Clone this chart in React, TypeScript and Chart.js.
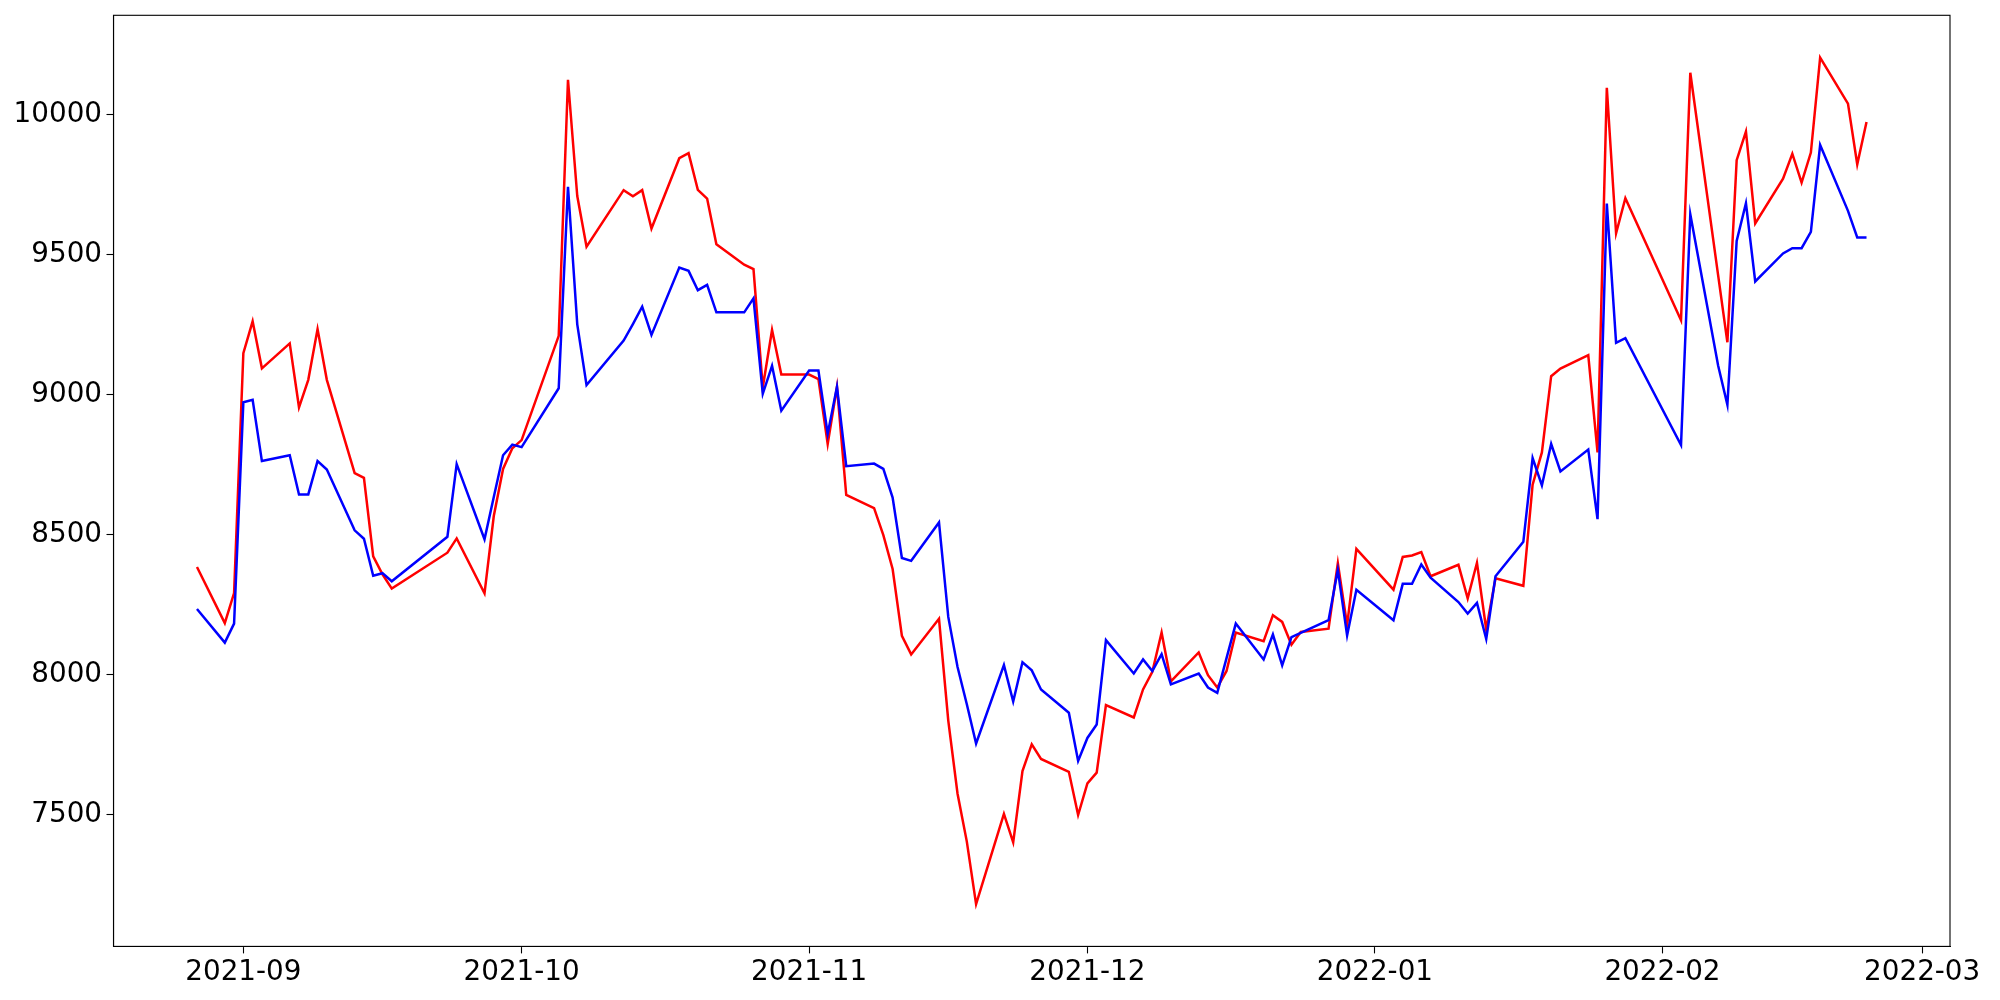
import React, { useEffect, useRef } from "react";
import { Chart, registerables } from "chart.js";

Chart.register(...registerables);

const dates: string[] = [
  "2021-08-27", "2021-08-30", "2021-08-31", "2021-09-01", "2021-09-02", "2021-09-03",
  "2021-09-06", "2021-09-07", "2021-09-08", "2021-09-09", "2021-09-10",
  "2021-09-13", "2021-09-14", "2021-09-15", "2021-09-16", "2021-09-17",
  "2021-09-23", "2021-09-24", "2021-09-27", "2021-09-28", "2021-09-29", "2021-09-30",
  "2021-10-01", "2021-10-05", "2021-10-06", "2021-10-07", "2021-10-08",
  "2021-10-12", "2021-10-13", "2021-10-14", "2021-10-15",
  "2021-10-18", "2021-10-19", "2021-10-20", "2021-10-21", "2021-10-22",
  "2021-10-25", "2021-10-26", "2021-10-27", "2021-10-28", "2021-10-29",
  "2021-11-01", "2021-11-02", "2021-11-03", "2021-11-04", "2021-11-05",
  "2021-11-08", "2021-11-09", "2021-11-10", "2021-11-11", "2021-11-12",
  "2021-11-15", "2021-11-16", "2021-11-17", "2021-11-18", "2021-11-19",
  "2021-11-22", "2021-11-23", "2021-11-24", "2021-11-25", "2021-11-26",
  "2021-11-29", "2021-11-30", "2021-12-01", "2021-12-02", "2021-12-03",
  "2021-12-06", "2021-12-07", "2021-12-08", "2021-12-09", "2021-12-10",
  "2021-12-13", "2021-12-14", "2021-12-15", "2021-12-16", "2021-12-17",
  "2021-12-20", "2021-12-21", "2021-12-22", "2021-12-23", "2021-12-24",
  "2021-12-27", "2021-12-28", "2021-12-29", "2021-12-30",
  "2022-01-03", "2022-01-04", "2022-01-05", "2022-01-06", "2022-01-07",
  "2022-01-10", "2022-01-11", "2022-01-12", "2022-01-13", "2022-01-14",
  "2022-01-17", "2022-01-18", "2022-01-19", "2022-01-20", "2022-01-21",
  "2022-01-24", "2022-01-25", "2022-01-26", "2022-01-27", "2022-01-28",
  "2022-02-03", "2022-02-04",
  "2022-02-07", "2022-02-08", "2022-02-09", "2022-02-10", "2022-02-11",
  "2022-02-14", "2022-02-15", "2022-02-16", "2022-02-17", "2022-02-18",
  "2022-02-21", "2022-02-22", "2022-02-23",
];

const redValues: number[] = [
  8385, 8185, 8292, 9148, 9262, 9094,
  9183, 8955, 9053, 9234, 9053,
  8720, 8703, 8423, 8359, 8308,
  8436, 8487, 8291, 8567, 8735, 8809,
  8838, 9210, 10124, 9709, 9528,
  9730, 9708, 9730, 9593,
  9844, 9862, 9731, 9700, 9537,
  9464, 9448, 9026, 9231, 9072,
  9072, 9056, 8824, 9028, 8642,
  8595, 8499, 8378, 8139, 8073,
  8200, 7837, 7576, 7405, 7182,
  7504, 7402, 7657, 7752, 7700,
  7654, 7500, 7613, 7651, 7892,
  7848, 7948, 8011, 8151, 7977,
  8080, 7999, 7955, 8014, 8151,
  8120, 8213, 8189, 8108, 8153,
  8165, 8399, 8177, 8450,
  8304, 8421, 8426, 8438, 8352,
  8393, 8273, 8400, 8162, 8345,
  8318, 8679, 8794, 9066, 9093,
  9141, 8794, 10095, 9576, 9701,
  9266, 10149,
  9427, 9187, 9837, 9939, 9611,
  9771, 9860, 9757, 9864, 10203,
  10039, 9822, 9973,
];

const blueValues: number[] = [
  8235, 8115, 8183, 8973, 8982, 8763,
  8784, 8644, 8644, 8763, 8733,
  8516, 8486, 8354, 8363, 8334,
  8493, 8752, 8484, 8635, 8784, 8822,
  8813, 9023, 9742, 9251, 9034,
  9193, 9252, 9314, 9213,
  9454, 9442, 9373, 9392, 9294,
  9294, 9344, 9003, 9103, 8943,
  9086, 9086, 8860, 9028, 8745,
  8754, 8735, 8633, 8417, 8407,
  8544, 8207, 8028, 7895, 7755,
  8035, 7905, 8045, 8016, 7948,
  7865, 7693, 7775, 7823, 8124,
  8005, 8055, 8014, 8074, 7966,
  8005, 7955, 7936, 8060, 8183,
  8055, 8144, 8034, 8135, 8150,
  8195, 8375, 8141, 8304,
  8195, 8325, 8325, 8394, 8347,
  8260, 8219, 8257, 8128, 8352,
  8475, 8774, 8676, 8824, 8726,
  8804, 8556, 9682, 9185, 9202,
  8820, 9644,
  9104, 8964, 9549, 9683, 9404,
  9504, 9523, 9523, 9581, 9891,
  9656, 9561, 9561,
];

const xTickDates: string[] = [
  "2021-09-01", "2021-10-01", "2021-11-01", "2021-12-01",
  "2022-01-01", "2022-02-01", "2022-03-01",
];

const yTickValues: number[] = [7500, 8000, 8500, 9000, 9500, 10000];

const toMs = (d: string) => Date.parse(d + "T00:00:00Z");

const fmtMonth = (ms: number) => {
  const dt = new Date(ms);
  const m = dt.getUTCMonth() + 1;
  return `${dt.getUTCFullYear()}-${m < 10 ? "0" + m : m}`;
};

export default function App() {
  const ref = useRef<HTMLCanvasElement | null>(null);

  useEffect(() => {
    if (!ref.current) return;
    const xs = dates.map(toMs);
    const xMinD = Math.min(...xs);
    const xMaxD = Math.max(...xs);
    const xPad = (xMaxD - xMinD) * 0.05;
    const allY = [...redValues, ...blueValues];
    const yMinD = Math.min(...allY);
    const yMaxD = Math.max(...allY);
    const yPad = (yMaxD - yMinD) * 0.05;

    const boxPlugin = {
      id: "box",
      afterDraw(chart: any) {
        const { ctx, chartArea } = chart;
        ctx.save();
        ctx.strokeStyle = "#000";
        ctx.lineWidth = 1.1;
        ctx.strokeRect(chartArea.left, chartArea.top, chartArea.right - chartArea.left, chartArea.bottom - chartArea.top);
        ctx.restore();
      },
    };

    const tickFont = { family: "DejaVu Sans", size: 27.8 };

    const chart = new Chart(ref.current, {
      type: "line",
      data: {
        datasets: [
          {
            label: "blue",
            data: xs.map((x, i) => ({ x, y: blueValues[i] })),
            borderColor: "#0000ff",
            backgroundColor: "#0000ff",
            borderWidth: 2.5,
            pointRadius: 0,
            tension: 0,
            order: 0,
          },
          {
            label: "red",
            data: xs.map((x, i) => ({ x, y: redValues[i] })),
            borderColor: "#ff0000",
            backgroundColor: "#ff0000",
            borderWidth: 2.5,
            pointRadius: 0,
            tension: 0,
            order: 1,
          },
        ],
      },
      options: {
        animation: false,
        responsive: false,
        devicePixelRatio: 1,
        layout: { padding: { left: 0, top: 15.3, right: 50, bottom: 0 } },
        plugins: { legend: { display: false }, tooltip: { enabled: false } },
        scales: {
          x: {
            type: "linear",
            min: xMinD - xPad,
            max: xMaxD + xPad,
            afterBuildTicks: (scale: any) => {
              scale.ticks = xTickDates.map((d) => ({ value: toMs(d) }));
            },
            afterFit: (scale: any) => {
              scale.height = 53.6;
              scale.paddingLeft = 0;
              scale.paddingRight = 0;
            },
            ticks: {
              autoSkip: false,
              maxRotation: 0,
              padding: 3,
              color: "#000",
              font: tickFont,
              callback: (v: any) => fmtMonth(Number(v)),
            },
            grid: {
              drawOnChartArea: false,
              drawTicks: true,
              tickLength: 7,
              tickWidth: 1.1,
              tickColor: "#000",
            },
            border: { display: true, color: "#000", width: 1.1 },
          },
          y: {
            type: "linear",
            min: yMinD - yPad,
            max: yMaxD + yPad,
            afterBuildTicks: (scale: any) => {
              scale.ticks = yTickValues.map((v) => ({ value: v }));
            },
            afterFit: (scale: any) => {
              scale.width = 113.5;
              scale.paddingTop = 0;
              scale.paddingBottom = 0;
            },
            ticks: {
              padding: 4.5,
              color: "#000",
              font: tickFont,
              callback: (v: any) => String(v),
            },
            grid: {
              drawOnChartArea: false,
              drawTicks: true,
              tickLength: 7,
              tickWidth: 1.1,
              tickColor: "#000",
            },
            border: { display: true, color: "#000", width: 1.1 },
          },
        },
      },
      plugins: [boxPlugin],
    } as any);

    return () => chart.destroy();
  }, []);

  return (
    <div style={{ position: "absolute", left: 0, top: 0, width: 2000, height: 1000, background: "#fff" }}>
      <canvas ref={ref} width={2000} height={1000} style={{ width: 2000, height: 1000, display: "block" }} />
    </div>
  );
}
